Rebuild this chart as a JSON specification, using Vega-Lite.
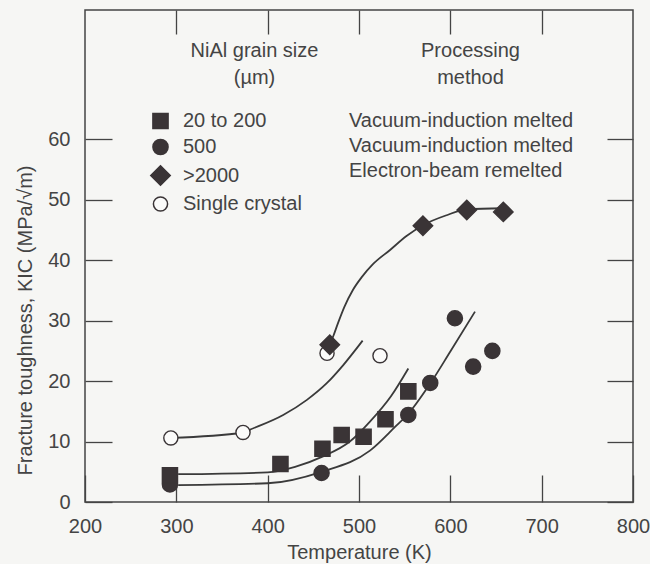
{
  "$schema": "https://vega.github.io/schema/vega-lite/v6.json",
  "width": 548,
  "height": 492,
  "autosize": {"type": "none"},
  "padding": {"left": 85, "top": 10, "right": 17, "bottom": 62},
  "background": "#f6f6f4",
  "config": {
    "font": "Liberation Sans",
    "view": {"stroke": "#444444", "strokeWidth": 1.5},
    "axis": {
      "domain": false,
      "grid": false,
      "labelFlush": false,
      "tickColor": "#444444",
      "tickWidth": 1.3,
      "labelFont": "Liberation Sans",
      "labelFontSize": 20,
      "labelColor": "#444444",
      "titleFont": "Liberation Sans",
      "titleFontSize": 20,
      "titleFontWeight": "normal",
      "titleColor": "#444444"
    },
    "legend": {
      "labelFont": "Liberation Sans",
      "labelFontSize": 20,
      "labelColor": "#444444",
      "labelLimit": 400,
      "padding": 0
    }
  },
  "datasets": {
    "curves": [
      {"curve": "Single crystal", "T": 294, "K": 10.6},
      {"curve": "Single crystal", "T": 373, "K": 11.5},
      {"curve": "Single crystal", "T": 381, "K": 12.0},
      {"curve": "Single crystal", "T": 417, "K": 14.4},
      {"curve": "Single crystal", "T": 443, "K": 16.9},
      {"curve": "Single crystal", "T": 465, "K": 19.7},
      {"curve": "Single crystal", "T": 483, "K": 22.7},
      {"curve": "Single crystal", "T": 504, "K": 26.7},
      {"curve": "20 to 200", "T": 302, "K": 4.6},
      {"curve": "20 to 200", "T": 400, "K": 4.9},
      {"curve": "20 to 200", "T": 430, "K": 5.8},
      {"curve": "20 to 200", "T": 460, "K": 7.5},
      {"curve": "20 to 200", "T": 490, "K": 10.0},
      {"curve": "20 to 200", "T": 512, "K": 13.3},
      {"curve": "20 to 200", "T": 535, "K": 17.5},
      {"curve": "20 to 200", "T": 554, "K": 22.1},
      {"curve": "500", "T": 302, "K": 2.8},
      {"curve": "500", "T": 400, "K": 3.1},
      {"curve": "500", "T": 459, "K": 5.0},
      {"curve": "500", "T": 512, "K": 8.5},
      {"curve": "500", "T": 540, "K": 12.5},
      {"curve": "500", "T": 554, "K": 14.6},
      {"curve": "500", "T": 578, "K": 19.6},
      {"curve": "500", "T": 600, "K": 24.9},
      {"curve": "500", "T": 627, "K": 31.5},
      {"curve": ">2000", "T": 468, "K": 26.0},
      {"curve": ">2000", "T": 472, "K": 27.5},
      {"curve": ">2000", "T": 477, "K": 29.6},
      {"curve": ">2000", "T": 484, "K": 32.3},
      {"curve": ">2000", "T": 493, "K": 35.0},
      {"curve": ">2000", "T": 503, "K": 37.2},
      {"curve": ">2000", "T": 515, "K": 39.3},
      {"curve": ">2000", "T": 534, "K": 41.7},
      {"curve": ">2000", "T": 552, "K": 44.0},
      {"curve": ">2000", "T": 570, "K": 45.8},
      {"curve": ">2000", "T": 595, "K": 47.4},
      {"curve": ">2000", "T": 618, "K": 48.4},
      {"curve": ">2000", "T": 658, "K": 48.6}
    ],
    "points": [
      {"sample": "Single crystal", "T": 294, "K": 10.6},
      {"sample": "Single crystal", "T": 373, "K": 11.5},
      {"sample": "Single crystal", "T": 465, "K": 24.6},
      {"sample": "Single crystal", "T": 523, "K": 24.2},
      {"sample": "500", "T": 293, "K": 2.9},
      {"sample": "500", "T": 459, "K": 4.8},
      {"sample": "500", "T": 554, "K": 14.4},
      {"sample": "500", "T": 578, "K": 19.7},
      {"sample": "500", "T": 605, "K": 30.4},
      {"sample": "500", "T": 625, "K": 22.4},
      {"sample": "500", "T": 646, "K": 25.0},
      {"sample": "20 to 200", "T": 293, "K": 4.4},
      {"sample": "20 to 200", "T": 414, "K": 6.3},
      {"sample": "20 to 200", "T": 460, "K": 8.8},
      {"sample": "20 to 200", "T": 481, "K": 11.1},
      {"sample": "20 to 200", "T": 505, "K": 10.8},
      {"sample": "20 to 200", "T": 529, "K": 13.7},
      {"sample": "20 to 200", "T": 554, "K": 18.3},
      {"sample": ">2000", "T": 468, "K": 26.0},
      {"sample": ">2000", "T": 570, "K": 45.7},
      {"sample": ">2000", "T": 618, "K": 48.3},
      {"sample": ">2000", "T": 658, "K": 48.0}
    ]
  },
  "layer": [
    {
      "data": {"name": "curves"},
      "mark": {"type": "line", "interpolate": "monotone", "color": "#3a3a3a", "strokeWidth": 1.8},
      "encoding": {
        "x": {
          "field": "T", "type": "quantitative",
          "scale": {"domain": [200, 800], "nice": false, "zero": false},
          "axis": {
            "orient": "bottom",
            "values": [200, 300, 400, 500, 600, 700, 800],
            "tickSize": -27,
            "labelPadding": 41,
            "title": "Temperature (K)",
            "titleY": 50,
            "titleBaseline": "middle"
          }
        },
        "y": {
          "field": "K", "type": "quantitative",
          "scale": {"domain": [0, 81.4], "nice": false},
          "axis": {
            "orient": "left",
            "values": [0, 10, 20, 30, 40, 50, 60],
            "tickSize": -27,
            "labelPadding": 42,
            "title": "Fracture toughness, KIC (MPa/√m)",
            "titleX": -60,
            "titleY": 310,
            "titleAngle": -90,
            "titleAlign": "center",
            "titleBaseline": "middle"
          }
        },
        "detail": {"field": "curve", "type": "nominal"}
      }
    },
    {
      "data": {"name": "points"},
      "mark": {"type": "point", "filled": true, "opacity": 1, "strokeWidth": 1.4},
      "encoding": {
        "x": {
          "field": "T", "type": "quantitative",
          "axis": {
            "orient": "top",
            "values": [300, 400, 500, 600, 700],
            "tickSize": -24,
            "labels": false,
            "title": ["NiAl grain size", "(µm)"],
            "titleX": 169,
            "titleY": 40,
            "titleAlign": "center",
            "titleBaseline": "middle",
            "titleLineHeight": 27
          }
        },
        "y": {
          "field": "K", "type": "quantitative",
          "axis": {
            "orient": "right",
            "values": [0, 10, 20, 30, 40, 50, 60],
            "tickSize": -26,
            "labels": false,
            "title": null
          }
        },
        "shape": {
          "field": "sample", "type": "nominal",
          "scale": {"domain": ["20 to 200", "500", ">2000", "Single crystal"], "range": ["square", "circle", "diamond", "circle"]},
          "legend": {"orient": "none", "legendX": 65, "legendY": 101, "title": null, "labelOffset": 12, "rowPadding": 4}
        },
        "fill": {
          "field": "sample", "type": "nominal",
          "scale": {"domain": ["20 to 200", "500", ">2000", "Single crystal"], "range": ["#3a3436", "#3a3436", "#3a3436", "#fbfbfa"]},
          "legend": {"orient": "none", "legendX": 65, "legendY": 101, "title": null, "labelOffset": 12, "rowPadding": 4}
        },
        "stroke": {
          "field": "sample", "type": "nominal",
          "scale": {"domain": ["20 to 200", "500", ">2000", "Single crystal"], "range": ["#3a3436", "#3a3436", "#3a3436", "#3a3436"]},
          "legend": {"orient": "none", "legendX": 65, "legendY": 101, "title": null, "labelOffset": 12, "rowPadding": 4}
        },
        "size": {
          "field": "sample", "type": "nominal",
          "scale": {"type": "ordinal", "domain": ["20 to 200", "500", ">2000", "Single crystal"], "range": [230, 230, 380, 200]},
          "legend": {"orient": "none", "legendX": 65, "legendY": 101, "title": null, "labelOffset": 12, "rowPadding": 4}
        }
      }
    },
    {
      "data": {"name": "points"},
      "transform": [{"filter": "datum.sample !== 'Single crystal'"}],
      "mark": {"type": "point", "opacity": 0},
      "encoding": {
        "x": {
          "field": "T", "type": "quantitative",
          "axis": {
            "orient": "top",
            "ticks": false,
            "labels": false,
            "title": ["Processing", "method"],
            "titleX": 385,
            "titleY": 40,
            "titleAlign": "center",
            "titleBaseline": "middle",
            "titleLineHeight": 27
          }
        },
        "y": {"field": "K", "type": "quantitative", "axis": null},
        "color": {
          "field": "sample", "type": "nominal",
          "scale": {"domain": ["20 to 200", "500", ">2000"], "range": ["#3a3436", "#3a3436", "#3a3436"]},
          "legend": {
            "orient": "none", "legendX": 244, "legendY": 101, "title": null,
            "symbolOpacity": 0, "symbolSize": 1, "labelOffset": 0, "rowPadding": 5,
            "labelExpr": "datum.label === '>2000' ? 'Electron-beam remelted' : 'Vacuum-induction melted'"
          }
        }
      }
    }
  ],
  "resolve": {"axis": {"x": "independent", "y": "independent"}}
}
